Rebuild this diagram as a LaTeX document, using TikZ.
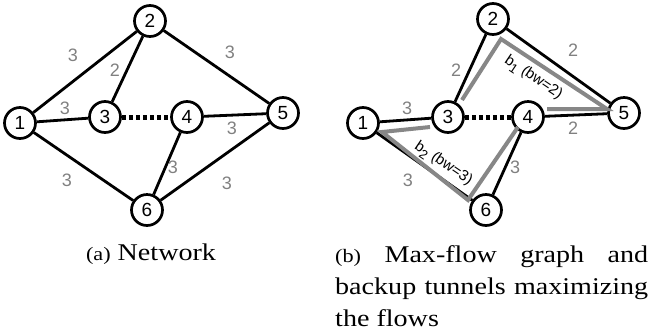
\documentclass[tikz,border=0pt]{standalone}
\usepackage{fontspec}
\setmainfont[FakeStretch=1.17]{Liberation Serif}
\newfontfamily\nodefont{Liberation Sans}
\begin{document}
\begin{tikzpicture}[x=1pt,y=-1pt,
  vtx/.style={circle,draw,line width=2.7pt,fill=white,minimum size=31pt,inner sep=0pt,
    font=\nodefont\fontsize{19}{19}\selectfont},
  edge/.style={line width=2.8pt},
  dotedge/.style={line width=5pt,dash pattern=on 4pt off 3pt},
  wt/.style={text=black!50,inner sep=0pt,font=\nodefont\fontsize{18}{18}\selectfont},
  tunnel/.style={line width=4pt,draw=black!47,line join=miter},
  tlabel/.style={inner sep=0pt,rotate=-34,font=\nodefont\fontsize{15}{15}\selectfont},
  capfont/.style={font=\fontsize{24}{32}\selectfont},
]
\newcommand\mysub[1]{\raisebox{-0.6ex}{\fontsize{13}{13}\selectfont #1}}
\useasboundingbox (0,0) rectangle (653,333);

% ---------- (a) Network ----------
\node[vtx] (a1) at (20,123) {1};
\node[vtx] (a2) at (150,21) {2};
\node[vtx] (a3) at (105,117) {3};
\node[vtx] (a4) at (187,117) {4};
\node[vtx] (a5) at (283,113) {5};
\node[vtx] (a6) at (147,210) {6};

\draw[edge] (a1) -- (a2);
\draw[edge] (a2) -- (a3);
\draw[edge] (a2) -- (a5);
\draw[edge] (a1) -- (a3);
\draw[dotedge] (a3) -- (a4);
\draw[edge] (a4) -- (a5);
\draw[edge] (a4) -- (a6);
\draw[edge] (a1) -- (a6);
\draw[edge] (a6) -- (a5);

\node[wt] (wa12) at (73,55) {3};
\node[wt] (wa23) at (115,70) {2};
\node[wt] (wa25) at (230,52) {3};
\node[wt] (wa13) at (65,108) {3};
\node[wt] (wa45) at (232,128) {3};
\node[wt] (wa46) at (173,167) {3};
\node[wt] (wa16) at (67,180) {3};
\node[wt] (wa65) at (227,183) {3};

% ---------- (b) Max-flow ----------
\node[vtx] (b1) at (363,123) {1};
\node[vtx] (b2) at (493,19) {2};
\node[vtx] (b3) at (448,117) {3};
\node[vtx] (b4) at (528,117) {4};
\node[vtx] (b5) at (624,113) {5};
\node[vtx] (b6) at (486,210) {6};

\draw[edge] (b1) -- (b3);
\draw[edge] (b3) -- (b2);
\draw[edge] (b2) -- (b5);
\draw[dotedge] (b3) -- (b4);
\draw[edge] (b4) -- (b5);
\draw[edge] (b4) -- (b6);
\draw[edge] (b1) -- (b6);

% backup tunnel b1: 3 -> 2 -> 5 -> 4
\coordinate (t1a) at (462,100);
\coordinate (t1b) at (501,39);
\coordinate (t1c) at (607,109);
\coordinate (t1d) at (547,109);
\draw[tunnel] (t1a) -- (t1b) -- (t1c) -- (t1d);
% backup tunnel b2: 3 -> 1 -> 6 -> 4
\coordinate (t2a) at (430,127);
\coordinate (t2b) at (382,132);
\coordinate (t2c) at (468,200);
\coordinate (t2d) at (518,127);
\draw[tunnel] (t2a) -- (t2b) -- (t2c) -- (t2d);

\node[tlabel] (lb1) at (533,78) {b\mysub{1} (bw=2)};
\node[tlabel] (lb2) at (443,164) {b\mysub{2} (bw=3)};

\node[wt] (wb32) at (456,70) {2};
\node[wt] (wb25) at (573,50) {2};
\node[wt] (wb13) at (407,108) {3};
\node[wt] (wb45) at (573,128) {2};
\node[wt] (wb46) at (515,167) {3};
\node[wt] (wb16) at (408,180) {3};

% ---------- captions ----------
\node[capfont,anchor=base,inner sep=0pt] (capa) at (151,260)
  {{\fontsize{19}{19}\selectfont(a)} Network};
\node[capfont,anchor=north west,inner sep=0pt,text width=313pt,align=justify] (capb) at (335,245)
  {{\fontsize{19}{19}\selectfont(b)} Max-flow graph and backup tunnels maximizing the flows};
\end{tikzpicture}
\end{document}
